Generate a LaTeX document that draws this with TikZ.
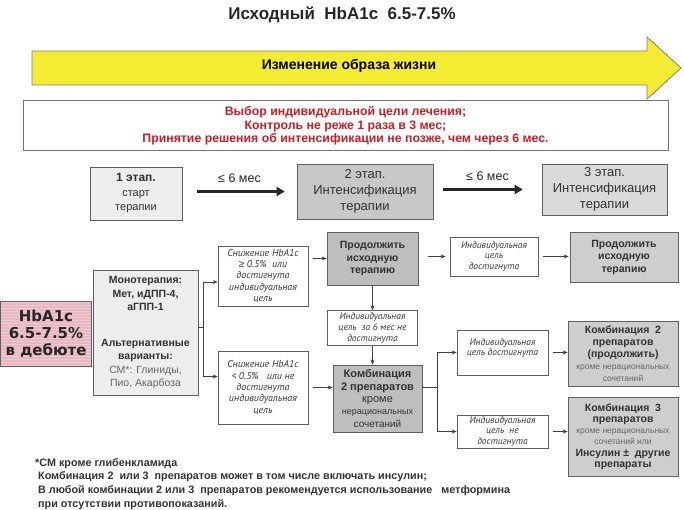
\documentclass[tikz,border=0pt]{standalone}
\usepackage{fontspec}
\setmainfont{Liberation Sans}
\newfontfamily\ptsans{PT Sans}
\newfontfamily\dvsans{DejaVu Sans}
\usepackage{xcolor}
\usetikzlibrary{arrows.meta, positioning, calc, patterns}

\definecolor{boxline}{RGB}{95,95,95}
\definecolor{lightbox}{RGB}{237,237,237}
\definecolor{darkbox}{RGB}{190,190,190}
\definecolor{midbox}{RGB}{206,206,206}
\definecolor{stagetwo}{RGB}{200,200,200}
\definecolor{stagethree}{RGB}{218,218,218}
\definecolor{pinkbox}{RGB}{232,184,194}
\definecolor{redtxt}{RGB}{198,30,38}
\definecolor{yellowarr}{RGB}{243,236,50}
\definecolor{txtgray}{RGB}{50,50,50}

\newcommand{\fsz}[2]{\fontsize{#1}{#2}\selectfont}

\begin{document}
\begin{tikzpicture}[
    x=1pt, y=-1pt,
    every node/.style={text=txtgray},
    stagebox/.style={rectangle, draw=boxline, line width=0.6pt, align=center, inner sep=0pt},
    notebox/.style={rectangle, draw=boxline, fill=white, line width=0.6pt, align=center,
                    inner sep=0pt, font=\ptsans\itshape\fsz{10}{11.3}, text=black!78},
    therbox/.style={rectangle, draw=boxline, line width=0.6pt, align=center, inner sep=0pt,
                    font=\bfseries\fsz{10.5}{12.5}},
    arr/.style={-{Stealth[length=5pt, width=4pt]}, line width=0.6pt, draw=black!75},
    bigarr/.style={-{Triangle[length=8pt, width=9pt]}, line width=2.6pt, draw=black!85},
    link/.style={line width=0.6pt, draw=black!75},
]
\useasboundingbox (0,0) rectangle (684,510);

% title and lifestyle arrow
\node[font=\bfseries\fsz{17}{18}, text=black!85] (title) at (342,15) {Исходный\ \ HbA1c\ \ 6.5-7.5\%};
\filldraw[fill=yellowarr, draw=black!50, line width=0.8pt]
    (32,51) -- (647,51) -- (647,37) -- (681,68) -- (647,99) -- (647,85) -- (32,85) -- cycle;
\node[font=\bfseries\fsz{14}{15}, text=black] (life) at (349,66) {Изменение образа жизни};

\node[draw=black!55, line width=1pt, minimum width=645pt, minimum height=50pt, inner sep=0pt,
      align=center, text=redtxt, font=\bfseries\fsz{12.3}{13.6}] (goals) at (345.5,126)
    {Выбор индивидуальной цели лечения;\\Контроль не реже 1 раза в 3 мес;\\Принятие решения об интенсификации не позже, чем через 6 мес.};

% stages
\node[stagebox, fill=lightbox, minimum width=92pt, minimum height=53pt, font=\fsz{12.5}{14.5}] (stage1) at (136,193.5)
    {\bfseries\fsz{12}{13}1 этап.\\\fsz{11}{12}старт\\\fsz{11}{12}терапии};
\node[stagebox, fill=stagetwo, minimum width=136pt, minimum height=55pt, font=\fsz{13}{16}] (stage2) at (365,191.5)
    {2 этап.\\Интенсификация\\терапии};
\node[stagebox, fill=stagethree, minimum width=125pt, minimum height=51pt, font=\fsz{13}{16}] (stage3) at (604.5,189.5)
    {3 этап.\\Интенсификация\\терапии};

\draw[bigarr, shorten <=15pt, shorten >=12pt] (stage1.east |- stage2.west) -- node[above=4pt, font=\fsz{12.5}{14}, text=black!85] (lag1) {≤ 6 мес} (stage2.west);
\draw[bigarr, shorten <=10pt, shorten >=19pt] (stage2.east |- stage3.west) -- node[above=4pt, font=\fsz{12.5}{14}, text=black!85] (lag2) {≤ 6 мес} (stage3.west);

% start of therapy
\node[draw=boxline, line width=0.8pt, preaction={fill=pinkbox}, pattern=horizontal lines,
      pattern color=white!25!pinkbox, minimum width=91pt, minimum height=65pt, inner sep=0pt,
      align=center, font=\dvsans\bfseries\fsz{15}{17}, text=black!85] (start) at (46,333.5)
    {HbA1c\\6.5-7.5\%\\в дебюте};
\node[stagebox, fill=lightbox, minimum width=105pt, minimum height=125pt, font=\bfseries\fsz{10.5}{13.5}] (mono) at (145.5,332.5)
    {\bfseries Монотерапия:\\\bfseries Мет, иДПП-4,\\\bfseries аГПП-1\\[22pt]\bfseries Альтернативные\\\bfseries варианты:\\
     \mdseries\color{black!60}СМ*: Глиниды,\\\mdseries\color{black!60}Пио, Акарбоза};

\node[notebox, minimum width=90pt, minimum height=60pt] (cut1) at (263,276)
    {Снижение HbA1c\\{\rmfamily ≥} 0.5\%\ \ или\\достигнута\\индивидуальная\\цель};
\node[notebox, minimum width=90pt, minimum height=73pt] (cut2) at (263,387.5)
    {Снижение HbA1c\\< 0.5\%\ \ \ или не\\достигнута\\индивидуальная\\цель};

% middle column
\node[therbox, fill=darkbox, minimum width=91pt, minimum height=53pt] (keep1) at (372.5,258.5)
    {Продолжить\\исходную\\терапию};
\node[notebox, minimum width=90pt, minimum height=35pt, below=25pt of keep1,
      font=\ptsans\itshape\fsz{9.5}{10.8}] (miss6)
    {Индивидуальная\\цель\ \ за 6 мес не\\достигнута};
\node[therbox, fill=darkbox, minimum width=89pt, minimum height=67pt, font=\bfseries\fsz{11}{12.3}] (combo2) at (377.5,398.5)
    {\bfseries Комбинация\\\bfseries 2 препаратов\\\mdseries кроме\\\mdseries\fsz{9}{11}нерациональных\\\mdseries\fsz{10}{11}сочетаний};

% right columns
\node[notebox, minimum width=88pt, minimum height=39pt, font=\ptsans\itshape\fsz{9.5}{10.8}] (hit1) at (494,256.5)
    {Индивидуальная\\цель\\достигнута};
\node[therbox, fill=midbox, minimum width=108pt, minimum height=50pt] (keep2) at (624,257)
    {Продолжить\\исходную\\терапию};
\node[notebox, minimum width=91pt, minimum height=45pt, font=\ptsans\itshape\fsz{9.5}{10.8}] (hitA) at (502.5,352.5)
    {Индивидуальная\\цель достигнута\\\mbox{}};
\node[notebox, minimum width=91pt, minimum height=33pt, font=\ptsans\itshape\fsz{9.5}{10.5}] (hitB) at (502.5,431.5)
    {Индивидуальная\\цель\ \ не\\достигнута};
\node[therbox, fill=midbox, minimum width=110pt, minimum height=65pt, font=\bfseries\fsz{10.5}{12}] (combo2r) at (623,353.5)
    {\bfseries Комбинация\ \ 2\\\bfseries препаратов\\\bfseries (продолжить)\\
     \mdseries\fsz{8.5}{10}\color{black!60}кроме нерациональных\\\mdseries\fsz{8.5}{10}\color{black!60}сочетаний};
\node[therbox, fill=midbox, minimum width=110pt, minimum height=79pt, font=\bfseries\fsz{10.5}{11.3}] (combo3) at (623,436.5)
    {\bfseries Комбинация\ \ 3\\\bfseries препаратов\\
     \mdseries\fsz{8.5}{10}\color{black!60}кроме нерациональных\\\mdseries\fsz{8.5}{10}\color{black!60}сочетаний или\\
     \bfseries Инсулин ±\ \ другие\\\bfseries препараты};

% connectors
\coordinate (fork1) at (203,327);
\draw[link] (mono.east |- fork1) -- (fork1);
\draw[arr] (fork1) |- ([yshift=-6pt]cut1.west);
\draw[arr] (fork1) |- ([yshift=11pt]cut2.west);

\draw[arr, shorten <=5pt] (cut1.east |- keep1.west) -- (keep1.west);
\draw[arr, shorten <=5pt] (cut2.east) -- (cut2.east -| combo2.west);
\draw[arr] (keep1) -- (miss6);
\draw[arr] (miss6.south) -- (miss6.south |- combo2.north);
\draw[arr, shorten <=10pt, shorten >=4pt] (keep1.east |- hit1.west) -- (hit1.west);
\draw[arr, shorten <=5pt, shorten >=1pt] (hit1.east) -- (hit1.east -| keep2.west);

\coordinate (fork2) at (437,387);
\draw[link] (combo2.east |- fork2) -- (fork2);
\draw[arr] (fork2) |- (hitA.west);
\draw[arr] (fork2) |- (hitB.west);
\draw[arr, shorten <=5pt] (hitA.east) -- (hitA.east -| combo2r.west);
\draw[arr, shorten <=5pt] (hitB.east) -- (hitB.east -| combo3.west);

% footnote
\node[anchor=north west, align=left, inner sep=0pt, font=\bfseries\fsz{10.8}{13.7}, text=black!80] (notes) at (35,458)
    {*СМ кроме глибенкламида\\
     \hspace*{3pt}Комбинация 2\ \ или 3\ \ препаратов может в том числе включать инсулин;\\
     \hspace*{3pt}В любой комбинации 2 или 3\ \ препаратов рекомендуется использование\ \ \ метформина\\
     \hspace*{3pt}при отсутствии противопоказаний.};

\end{tikzpicture}
\end{document}
